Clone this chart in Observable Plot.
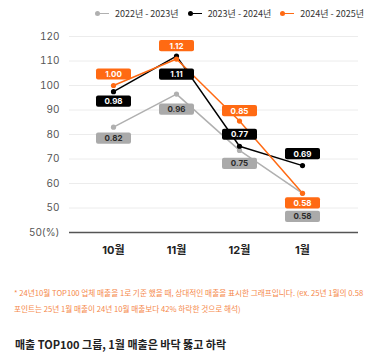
<!DOCTYPE html>
<html><head><meta charset="utf-8">
<script src="https://cdn.jsdelivr.net/npm/d3@7"></script>
<script src="https://cdn.jsdelivr.net/npm/@observablehq/plot@0.6"></script>
<style>
body{margin:0;background:#fff;font-family:Inter,"Noto Sans CJK KR",sans-serif;width:386px;height:354px;overflow:hidden}
#legend{height:26px;display:flex;justify-content:flex-end;align-items:center;padding-right:22px;font-size:9px;color:#333;gap:9px}
.item{display:flex;align-items:center;gap:6px;font-family:"Noto Sans CJK KR",sans-serif}
.sw{position:relative;width:14px;height:6px}
.sw i{position:absolute;left:1px;right:0;top:2.5px;height:1.5px}
.sw b{position:absolute;left:0;top:0.5px;width:5px;height:5px;border-radius:50%}
#chart svg{display:block}
#note{margin:23px 0 0 14px;font-size:7.65px;line-height:16px;color:#f5884a;font-family:"Noto Sans CJK KR",sans-serif;white-space:nowrap}
#title{margin:20px 0 0 15px;font-size:11px;line-height:14px;font-weight:600;color:#222;font-family:"Noto Sans CJK KR",sans-serif}
</style></head>
<body>
<div id="legend"></div>
<div id="chart"></div>
<div id="note"></div>
<div id="title"></div>
<script>
const months = ["10월", "11월", "12월", "1월"];
const seriesNames = ["2022년 - 2023년", "2023년 - 2024년", "2024년 - 2025년"];
const values2223 = [83, 96.5, 73.5, 56];
const values2324 = [97.5, 112, 75.2, 67.3];
const values2425 = [100, 110.8, 85.5, 56];
const labels2223 = ["0.82", "0.96", "0.75", "0.58"];
const labels2324 = ["0.98", "1.11", "0.77", "0.69"];
const labels2425 = ["1.00", "1.12", "0.85", "0.58"];
const yTicks = [40, 50, 60, 70, 80, 90, 100, 110, 120];
const yTickLabels = ["50(%)", "50", "60", "70", "80", "90", "100", "110", "120"];
const noteLines = [
  "* 24년10월 TOP100 업체 매출을 1로 기준 했을 때, 상대적인 매출을 표시한 그래프입니다. (ex. 25년 1월의 0.58",
  "포인트는 25년 1월 매출이 24년 10월 매출보다 42% 하락한 것으로 해석)"
];
const titleText = "매출 TOP100 그룹, 1월 매출은 바닥 뚫고 하락";

// styles / layout
const lineColors = ["#b0b0b0", "#000000", "#ff6a13"];
const boxColors = ["#aaaaaa", "#000000", "#ff6a13"];
const boxText = ["#2a2a2a", "#ffffff", "#ffffff"];
const labelDy = [[11, 15, 13, 23], [9.5, 18, -12, -12], [-11.5, -13.5, -10.5, 9.5]];

const allValues = [values2223, values2324, values2425];
const allLabels = [labels2223, labels2324, labels2425];
const data = [];
seriesNames.forEach((s, si) => months.forEach((m, mi) => data.push({series: s, si, mi, month: m, value: allValues[si][mi], label: allLabels[si][mi]})));

// legend
const lg = document.getElementById("legend");
seriesNames.forEach((s, i) => {
  const it = document.createElement("div"); it.className = "item";
  it.innerHTML = `<span class="sw"><i style="background:${lineColors[i]}"></i><b style="background:${lineColors[i]}"></b></span><span>${s}</span>`;
  lg.appendChild(it);
});

const roundRect = {
  draw(ctx) {
    const w = 17.5, h = 5.6, r = 2;
    ctx.moveTo(-w + r, -h); ctx.lineTo(w - r, -h); ctx.arcTo(w, -h, w, -h + r, r);
    ctx.lineTo(w, h - r); ctx.arcTo(w, h, w - r, h, r);
    ctx.lineTo(-w + r, h); ctx.arcTo(-w, h, -w, h - r, r);
    ctx.lineTo(-w, -h + r); ctx.arcTo(-w, -h, -w + r, -h, r); ctx.closePath();
  }
};

const labelMarks = [];
data.forEach(d => {
  const dy = labelDy[d.si][d.mi];
  labelMarks.push(Plot.dot([d], {x: "month", y: "value", dy, symbol: roundRect, r: 3, fill: boxColors[d.si]}));
  labelMarks.push(Plot.text([d], {x: "month", y: "value", dy: dy + 0.5, text: "label", fill: boxText[d.si], fontWeight: "bold", fontSize: 8}));
});

const chart = Plot.plot({
  width: 386, height: 236,
  marginTop: 10, marginBottom: 30, marginLeft: 69, marginRight: 28,
  style: {fontFamily: 'Inter, "Noto Sans CJK KR", sans-serif', fontSize: "11px", background: "#fff"},
  x: {type: "point", domain: months, padding: 0, insetLeft: 43, insetRight: 55},
  y: {domain: [40, 120]},
  color: {domain: seriesNames, range: lineColors},
  marks: [
    Plot.gridY(yTicks.slice(1), {stroke: "#ececec", strokeOpacity: 1, strokeWidth: 1}),
    Plot.ruleY([40], {stroke: "#555", strokeWidth: 1.5}),
    Plot.axisY(yTicks, {tickSize: 0, tickPadding: 10, tickFormat: d => yTickLabels[yTicks.indexOf(d)], fill: "#555", fontSize: 10, label: null}),
    Plot.axisX({tickSize: 0, tickPadding: 14, fontWeight: "bold", fill: "#222", fontSize: 11, label: null}),
    Plot.line(data, {x: "month", y: "value", z: "series", stroke: "series", strokeWidth: 1.5}),
    Plot.dot(data, {x: "month", y: "value", fill: "series", r: 2.6}),
    ...labelMarks
  ]
});
document.getElementById("chart").appendChild(chart);
document.getElementById("note").innerHTML = noteLines.join("<br>");
document.getElementById("title").textContent = titleText;
</script>
</body></html>
